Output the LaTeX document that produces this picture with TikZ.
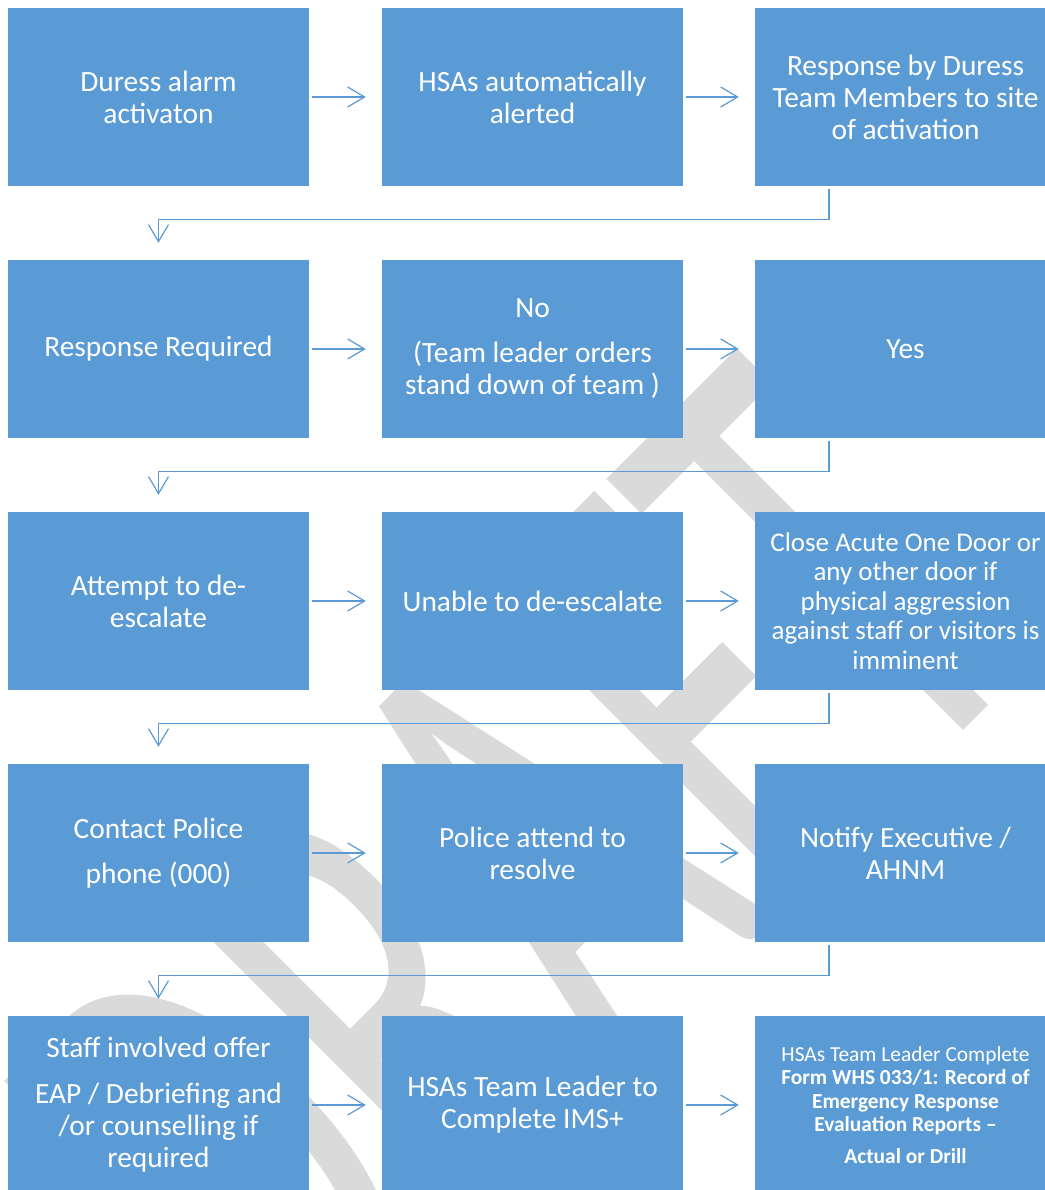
\documentclass[tikz,border=0pt]{standalone}
\usepackage{fontspec}
\setmainfont{Carlito}
\usetikzlibrary{arrows.meta,calc}
\definecolor{boxblue}{HTML}{5B9BD5}
\definecolor{wmgray}{HTML}{DADADA}
\begin{document}
\begin{tikzpicture}[x=1pt,y=1pt,
  box/.style={fill=boxblue, minimum width=301pt, minimum height=178pt, inner sep=0pt,
    text=white, align=center, font=\fontsize{29.4}{32}\selectfont},
  arr/.style={draw=boxblue, line width=1.2pt, -{Straight Barb[length=17pt,width=20pt]}}]
\useasboundingbox (0,0) rectangle (1044,1190);
\fill[white] (0,0) rectangle (1044,1190);
% watermark
\node[anchor=base west, inner sep=0pt, text=wmgray, rotate=45, xscale=0.594,
  font=\fontsize{670}{680}\selectfont] (wm) at (289,-215) {DRAFT};
% row 1
\node[box] (r1c1) at (158.5,1093) {Duress alarm\\activaton};
\node[box] (r1c2) at (532.5,1093) {HSAs automatically\\alerted};
\node[box] (r1c3) at (905.5,1093) {Response by Duress\\Team Members to site\\of activation};
% row 2
\node[box] (r2c1) at (158.5,841) {Response Required};
\node[box] (r2c2) at (532.5,841) {No\\[13pt](Team leader orders\\stand down of team )};
\node[box] (r2c3) at (905.5,841) {Yes};
% row 3
\node[box] (r3c1) at (158.5,589) {Attempt to de-\\escalate};
\node[box] (r3c2) at (532.5,589) {Unable to de-escalate};
\node[box, font=\fontsize{27}{29.5}\selectfont] (r3c3) at (905.5,589)
  {Close Acute One Door or\\any other door if\\physical aggression\\against staff or visitors is\\imminent};
% row 4
\node[box] (r4c1) at (158.5,337) {Contact Police\\[13pt]phone (000)};
\node[box] (r4c2) at (532.5,337) {Police attend to\\resolve};
\node[box] (r4c3) at (905.5,337) {Notify Executive /\\AHNM};
% row 5
\node[box] (r5c1) at (158.5,85) {Staff involved offer\\[14pt]EAP / Debriefing and\\/or counselling if\\required};
\node[box] (r5c2) at (532.5,85) {HSAs Team Leader to\\Complete IMS+};
\node[box, font=\fontsize{21.4}{23.5}\selectfont] (r5c3) at (905.5,85)
  {HSAs Team Leader Complete\\\textbf{Form WHS 033/1: Record of}\\\textbf{Emergency Response}\\\textbf{Evaluation Reports –}\\[8.5pt]\textbf{Actual or Drill}};
% horizontal arrows
\foreach \r in {1,...,5}{
  \draw[arr] ([xshift=3pt]r\r c1.east) -- ([xshift=-16pt]r\r c2.west);
  \draw[arr] ([xshift=3pt]r\r c2.east) -- ([xshift=-16pt]r\r c3.west);
}
% elbow arrows
\foreach \r/\n in {1/2,2/3,3/4,4/5}{
  \draw[arr] ([xshift=-76.5pt,yshift=-3pt]r\r c3.south) -- ++(0,-30) -| ([yshift=17pt]r\n c1.north);
}
\end{tikzpicture}
\end{document}
